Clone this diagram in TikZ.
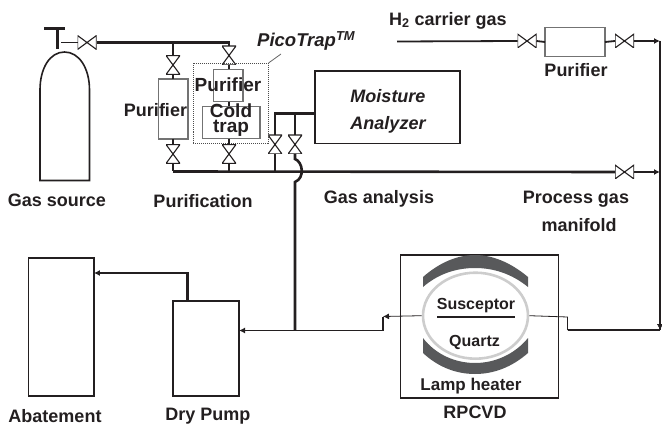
\documentclass[tikz,border=0pt]{standalone}
\usepackage{fontspec}
\setmainfont{Liberation Sans}
\usetikzlibrary{shapes.geometric,arrows.meta}
\definecolor{inkc}{HTML}{231F20}
\definecolor{lampc}{HTML}{58595B}
\definecolor{quartzc}{HTML}{CDCDCD}
\begin{document}
\begin{tikzpicture}[x=1pt, y=-1pt, >={Latex[length=6pt,width=6pt]}, color=inkc,
    lbl/.style={inner sep=0pt, font=\fontsize{18}{20}\selectfont\bfseries},
    lblbig/.style={inner sep=0pt, font=\fontsize{19}{15}\selectfont\bfseries},
    lblit/.style={inner sep=0pt, font=\fontsize{18}{20}\selectfont\bfseries\itshape},
    lblsm/.style={inner sep=0pt, font=\fontsize{16}{18}\selectfont\bfseries},
    box/.style={draw, inner sep=0pt, outer sep=0pt, line width=1.3pt},
    filterbox/.style={draw=black!55, inner sep=0pt, outer sep=0pt, line width=1.1pt},
    valveh/.style={inner sep=0pt, outer sep=0pt, fill=white, minimum width=19pt, minimum height=14pt,
      path picture={\draw[line width=1.1pt] (path picture bounding box.north west) -- (path picture bounding box.south west)
        -- (path picture bounding box.north east) -- (path picture bounding box.south east) -- cycle;}},
    valvev/.style={inner sep=0pt, outer sep=0pt, fill=white, minimum width=14pt, minimum height=19pt,
      path picture={\draw[line width=1.1pt] (path picture bounding box.north west) -- (path picture bounding box.north east)
        -- (path picture bounding box.south west) -- (path picture bounding box.south east) -- cycle;}},
    pipe/.style={line width=2.6pt},
    thin pipe/.style={line width=1.8pt},
    hair/.style={line width=0.8pt}]
  \useasboundingbox (0,0) rectangle (662,425);

  % Gas source
  \draw[line width=1.6pt] (40,180.5) -- (40,90) .. controls (40,68) and (50,52) .. (64.5,52)
    .. controls (79,52) and (89.5,68) .. (89.5,90) -- (89.5,180.5) -- cycle;
  \coordinate (barl) at (44,28.5);
  \coordinate (barr) at (65,28.5);
  \coordinate (stemtop) at (57.5,28.5);
  \coordinate (stembot) at (57.5,49.5);
  \coordinate (stemout) at (61,42.5);
  \draw[pipe] (barl) -- (barr);
  \draw[pipe] (stemtop) -- (stembot);
  \node[lbl] (gassrc) at (57,200) {Gas source};

  % Valves
  \node[valveh] (vsrc) at (87,42.5) {};
  \node[valvev] (vp1) at (173,65) {};
  \node[valvev] (vp2) at (173,154) {};
  \node[valvev] (vt1) at (229,55.5) {};
  \node[valvev] (vt2) at (229,154) {};
  \node[valvev] (va1) at (275,144.5) {};
  \node[valvev] (va2) at (295,144.5) {};
  \node[valveh] (vh1) at (527,41) {};
  \node[valveh] (vh2) at (624.5,41) {};
  \node[valveh] (vman) at (624.5,172) {};

  % Boxes
  \node[filterbox, minimum width=29.5pt, minimum height=60pt] (pur1) at (173.2,109) {};
  \node[filterbox, minimum width=29.5pt, minimum height=32.5pt] (pur2) at (228.2,85.7) {};
  \node[filterbox, minimum width=57.5pt, minimum height=32.5pt] (cold) at (231.2,122.7) {};
  \node[filterbox, minimum width=60pt, minimum height=29pt] (pur3) at (575,42) {};
  \node[box, minimum width=145pt, minimum height=72.5pt] (moist) at (387.5,107.2) {};
  \node[box, line width=1.6pt, minimum width=65.5pt, minimum height=138pt] (abate) at (61.2,327) {};
  \node[box, line width=2pt, minimum width=66pt, minimum height=95pt] (pump) at (206,348.5) {};
  \node[box, line width=1.8pt, minimum width=158pt, minimum height=143pt] (rpcvd) at (479.5,326.5) {};

  % PicoTrap outline
  \node[draw=black!70, densely dotted, line width=1pt, inner sep=0pt, minimum width=75pt, minimum height=80pt] (pico) at (230.5,103.5) {};
  \coordinate (picoend) at (281,54);
  \draw[black!60, hair] (pico.north east) -- (picoend);

  % Junctions
  \coordinate (tp1) at (173,42.5);
  \coordinate (tt1) at (229.5,42.5);
  \coordinate (bp1) at (173,171.5);
  \coordinate (bt1) at (229,171.5);
  \coordinate (ba1) at (275,171.5);
  \coordinate (bend1) at (275,113.5);
  \coordinate (bend2) at (295,113.5);
  \coordinate (rail1) at (660,41);
  \coordinate (rail2) at (660,172);
  \coordinate (rail3) at (660,330);
  \coordinate (inl1) at (567.5,330);
  \coordinate (inl2) at (567.5,317);
  \coordinate (h2start) at (397,41.5);
  \coordinate (hump1) at (295,159);
  \coordinate (hump2) at (295,182);
  \coordinate (tee) at (295,330.5);
  \coordinate (ex1) at (383,316.5);
  \coordinate (ex2) at (383,330.5);
  \coordinate (pumpup) at (187.5,273);

  % Source line
  \draw[thin pipe] (stemout) -- (vsrc.west);
  \draw[pipe] (vsrc.east) -- (tt1);
  \draw[pipe] (tp1) -- (vp1.north);
  \draw[pipe] (tt1 -| vt1.north) -- (vt1.north);

  % Purification branches
  \draw[pipe] (vp1.south) -- (pur1.north -| vp1.south);
  \draw[pipe] (pur1.south -| vp2.north) -- (vp2.north);
  \draw[pipe] (vp2.south) -- (bp1);
  \draw[pipe] (vt1.south) -- (pur2.north -| vt1.south);
  \draw[pipe] (pur2.south -| vt1.south) -- (cold.north -| vt1.south);
  \draw[pipe] (cold.south -| vt2.north) -- (vt2.north);
  \draw[pipe] (vt2.south) -- (bt1);

  % Manifold line
  \draw[pipe] (bp1) -- (vman.west);
  \draw[thin pipe,->] (vman.east) -- (rail2);

  % Gas analysis
  \draw[pipe] (moist.west |- bend1) -- (bend1) -- (va1.north);
  \draw[pipe] (bend2) -- (va2.north);
  \draw[pipe] (va1.south) -- (ba1);
  \draw[pipe] (va2.south) -- (hump1) .. controls (303,162) and (305,178) .. (hump2) -- (tee);

  % H2 carrier gas
  \draw[thin pipe] (h2start) -- (vh1.west);
  \draw[thin pipe] (vh1.east) -- (pur3.west);
  \draw[thin pipe] (pur3.east) -- (vh2.west);
  \draw[thin pipe,->] (vh2.east) -- (rail1);

  % Chamber
  \fill[lampc] (423,277) .. controls (440,262) and (458,255) .. (475,255) .. controls (492,255) and (510,262) .. (528,277)
    -- (528,287) .. controls (512,274) and (494,268) .. (475,268) .. controls (456,268) and (438,274) .. (423,287) -- cycle;
  \fill[lampc] (423,338) .. controls (436,355) and (456,363) .. (475,363) .. controls (494,363) and (514,355) .. (528,338)
    -- (528,353) .. controls (512,367) and (494,374) .. (475,374) .. controls (456,374) and (438,367) .. (423,353) -- cycle;
  \node[ellipse, draw=quartzc, line width=2.6pt, inner sep=0pt, minimum width=105pt, minimum height=86pt] (quartz) at (475.5,315.7) {};
  \coordinate (susl) at (437,317);
  \coordinate (susr) at (515,317);
  \draw[line width=1.6pt] (susl) -- (susr);

  % Return lines
  \draw[line width=2pt] (rail1) -- (rail3);
  \draw[->] (rail2) -- (rail3);
  \draw[pipe] (rail3) -- (inl1);
  \draw[hair] (inl1) -- (inl2) -- (quartz.east);
  \draw[hair,->] (quartz.west) -- (ex1);
  \draw[thin pipe] (ex1) -- (ex2);
  \draw[thin pipe,->] (ex2) -- (pump.east |- ex2);
  \draw[pipe,->] (pump.north -| pumpup) -- (pumpup) -- (abate.east |- pumpup);

  % Labels
  \node[lbl] (lpur1) at (155.5,110) {Purifier};
  \node[lblbig] (lpur2) at (228,84.5) {Purifier};
  \node[lblbig, align=center] (lcold) at (231,120.5) {Cold\\trap};
  \node[lblit, anchor=west, font=\fontsize{18.5}{20}\selectfont\bfseries\itshape] (lpico) at (257,41) {PicoTrap\textsuperscript{TM}};
  \node[lbl, anchor=west] (lh2) at (389,20.5) {H\textsubscript{2} carrier gas};
  \node[lbl] (lpur3) at (576,70) {Purifier};
  \node[lblit] (lmoist) at (388,96) {Moisture};
  \node[lblit] (lana) at (388,125) {Analyzer};
  \node[lbl] (lprf) at (203,201) {Purification};
  \node[lbl] (lgas) at (379,199) {Gas analysis};
  \node[lbl] (lproc) at (576,199) {Process gas};
  \node[lbl] (lman) at (579,225) {manifold};
  \node[lblsm] (lsus) at (476,306) {Susceptor};
  \node[lblsm] (lqua) at (474.5,342) {Quartz};
  \node[lbl, font=\fontsize{17}{19}\selectfont\bfseries] (llamp) at (471,386) {Lamp heater};
  \node[lbl] (lrpc) at (475,412) {RPCVD};
  \node[lbl] (labate) at (55,416) {Abatement};
  \node[lbl] (lpump) at (208,416) {Dry Pump};
\end{tikzpicture}
\end{document}
